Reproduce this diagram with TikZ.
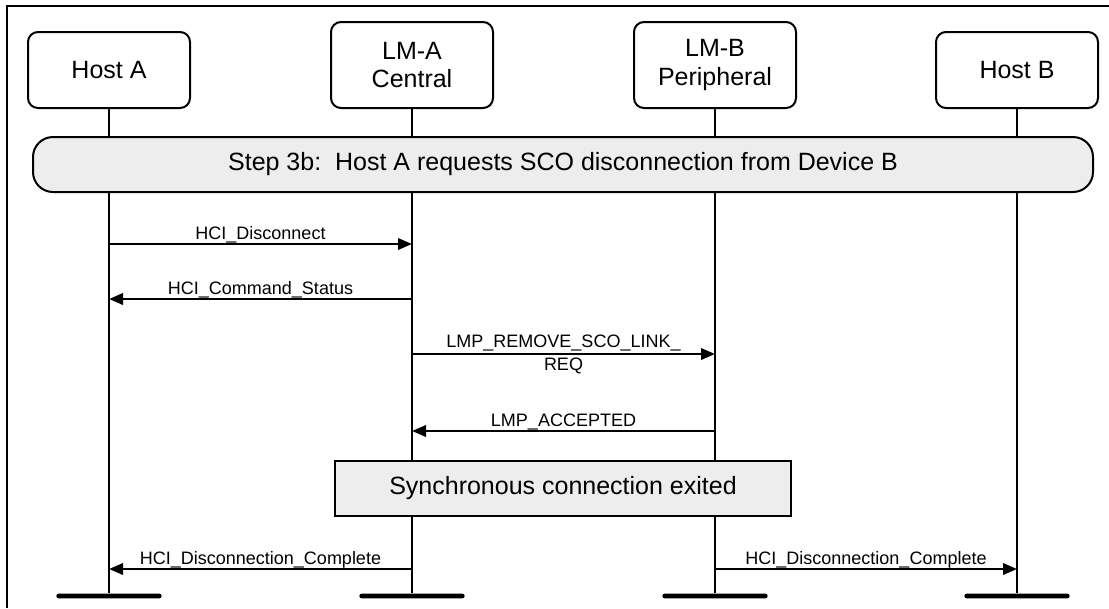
\documentclass[tikz,border=0pt]{standalone}
\usepackage{fontspec}
\setmainfont{Liberation Sans}
\usepackage{tikz}
\usetikzlibrary{arrows.meta, positioning, backgrounds}
\colorlet{panel}{black!7}

\tikzset{
  actor/.style={draw, line width=1.5pt, rounded corners=7.5pt, minimum width=121.5pt,
    align=center, font=\fontsize{18.75}{21.5}\selectfont},
  endbar/.style={fill=black, rounded corners=1.8pt, minimum width=79pt, minimum height=3.6pt, inner sep=0pt},
  lifeline/.style={line width=1.6pt},
  msg/.style={line width=1.9pt, -{Triangle[length=10.5pt, width=8.5pt]}},
  msglabel/.style={font=\fontsize{13.5}{17.25}\selectfont, inner sep=0pt, align=center},
}

\begin{document}
\begin{tikzpicture}[x=0.75pt, y=-0.75pt]
  \useasboundingbox (0,0) rectangle (1109,608);
  \draw[line width=1.5pt] (7,608) -- (7,6) -- (1109,6);
  % actors
  \node[actor, minimum height=57pt]   (hostA) at (109,70) {Host A};
  \node[actor, minimum height=64.5pt] (lmA)   at (412,65) {LM-A\\Central};
  \node[actor, minimum height=64.5pt] (lmB)   at (715,65) {LM-B\\Peripheral};
  \node[actor, minimum height=57pt]   (hostB) at (1017,70) {Host B};
  % end bars and message points
  \foreach \n/\x in {hostA/109, lmA/412, lmB/715, hostB/1017} {
    \node[endbar] (\n-end) at (\x,596) {};
    \foreach \k/\y in {1/244, 2/299, 3/354, 4/431, 5/569}
      \coordinate (\n-\k) at (\x,\y);
  }
  % lifelines
  \begin{scope}[on background layer]
    \foreach \n in {hostA, lmA, lmB, hostB}
      \draw[lifeline] (\n) -- (\n-end);
  \end{scope}
  % step bar
  \node[draw, line width=1.5pt, fill=panel, rounded corners=15pt, minimum width=795pt,
    minimum height=41.25pt, font=\fontsize{18.75}{22}\selectfont] (step) at (563,164.5)
    {Step 3b:\ \ Host A requests SCO disconnection from Device B};
  % 1. HCI_Disconnect
  \draw[msg] (hostA-1) -- (lmA-1)
    node[msglabel, midway, anchor=base, yshift=3.5pt] {HCI\_Disconnect};
  % 2. HCI_Command_Status
  \draw[msg] (lmA-2) -- (hostA-2)
    node[msglabel, midway, anchor=base, yshift=3.5pt] {HCI\_Command\_Status};
  % 3. LMP_REMOVE_SCO_LINK_REQ
  \draw[msg] (lmA-3) -- (lmB-3)
    node[msglabel, midway] {LMP\_REMOVE\_SCO\_LINK\_\\REQ};
  % 4. LMP_ACCEPTED
  \draw[msg] (lmB-4) -- (lmA-4)
    node[msglabel, midway, anchor=base, yshift=3.5pt] {LMP\_ACCEPTED};
  % sync box
  \node[draw, line width=1.5pt, fill=panel, minimum width=342pt, minimum height=41.25pt,
    font=\fontsize{18.75}{22}\selectfont] (sync) at (563,488.5) {Synchronous connection exited};
  % 5. HCI_Disconnection_Complete (both sides)
  \draw[msg] (lmA-5) -- (hostA-5)
    node[msglabel, midway, anchor=base, yshift=3.5pt] {HCI\_Disconnection\_Complete};
  \draw[msg] (lmB-5) -- (hostB-5)
    node[msglabel, midway, anchor=base, yshift=3.5pt] {HCI\_Disconnection\_Complete};
\end{tikzpicture}
\end{document}
